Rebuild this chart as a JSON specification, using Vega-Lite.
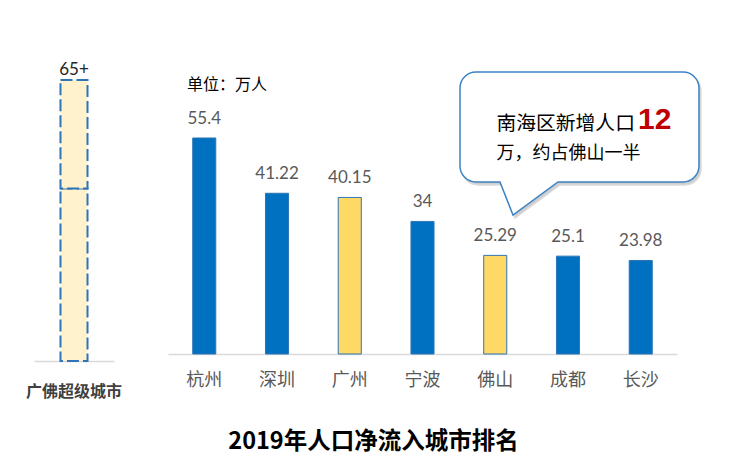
{
  "$schema": "https://vega.github.io/schema/vega-lite/v6.json",
  "width": 729,
  "height": 468,
  "autosize": "none",
  "padding": 0,
  "background": "white",
  "config": {"view": {"stroke": null}, "axis": {"grid": false}},
  "title": {
    "text": "2019年人口净流入城市排名",
    "orient": "bottom",
    "frame": "group",
    "anchor": "middle",
    "baseline": "middle",
    "offset": -26,
    "dx": 9,
    "font": "Noto Sans CJK SC",
    "fontSize": 23.5,
    "fontWeight": "bold",
    "color": "#000000"
  },
  "layer": [
    {
      "data": {"values": [
        {"名称": "广佛超级城市", "城市": "广州", "人数": 40.15},
        {"名称": "广佛超级城市", "城市": "佛山", "人数": 25.29}
      ]},
      "encoding": {
        "x": {
          "field": "名称", "type": "nominal",
          "scale": {"range": [34, 114], "paddingInner": 0, "paddingOuter": 0.98},
          "axis": {
            "orient": "bottom", "offset": -107, "title": null,
            "domainColor": "#D9D9D9", "domainWidth": 1.5,
            "ticks": false, "tickSize": 0,
            "labelFont": "Noto Sans CJK SC", "labelFontSize": 16, "labelFontWeight": "bold",
            "labelColor": "#404040", "labelPadding": 30, "labelBaseline": "middle", "labelAngle": 0
          }
        }
      },
      "layer": [
        {
          "mark": {"type": "bar", "fill": "#FFF2CC", "stroke": "#2E75B6", "strokeWidth": 2, "strokeDash": [12, 4]},
          "encoding": {
            "y": {"field": "人数", "type": "quantitative", "stack": "zero", "scale": {"domain": [-24.92, 84.07], "nice": false}, "axis": null},
            "detail": {"field": "城市"},
            "order": {"field": "人数", "sort": "descending"}
          }
        },
        {
          "mark": {"type": "text", "dy": -10, "baseline": "middle", "font": "Lato", "fontSize": 17, "color": "#262626", "text": "65+"},
          "encoding": {
            "y": {"aggregate": "sum", "field": "人数", "type": "quantitative"}
          }
        }
      ]
    },
    {
      "layer": [
        {
          "data": {"values": [
            {"城市": "杭州", "人数": 55.4, "类别": "其他城市"},
            {"城市": "深圳", "人数": 41.22, "类别": "其他城市"},
            {"城市": "广州", "人数": 40.15, "类别": "广佛"},
            {"城市": "宁波", "人数": 34, "类别": "其他城市"},
            {"城市": "佛山", "人数": 25.29, "类别": "广佛"},
            {"城市": "成都", "人数": 25.1, "类别": "其他城市"},
            {"城市": "长沙", "人数": 23.98, "类别": "其他城市"}
          ]},
          "encoding": {
            "x": {
              "field": "城市", "type": "nominal", "sort": null,
              "scale": {"range": [168, 677], "paddingInner": 0.683, "paddingOuter": 0.34},
              "axis": {
                "orient": "bottom", "offset": -114, "title": null,
                "domainColor": "#D9D9D9", "domainWidth": 1.5,
                "ticks": false, "tickSize": 0,
                "labelFont": "Noto Sans CJK SC", "labelFontSize": 18,
                "labelColor": "#595959", "labelPadding": 26, "labelBaseline": "middle", "labelAngle": 0
              }
            },
            "y": {"field": "人数", "type": "quantitative", "scale": {"domain": [-29.24, 90.79], "nice": false}, "axis": null}
          },
          "layer": [
            {
              "mark": {"type": "bar", "stroke": "#2E75B6", "strokeWidth": 1},
              "encoding": {
                "color": {"field": "类别", "type": "nominal", "scale": {"domain": ["其他城市", "广佛"], "range": ["#0070C0", "#FFD966"]}, "legend": null}
              }
            },
            {
              "mark": {"type": "text", "dy": -19, "baseline": "middle", "font": "Lato", "fontSize": 17, "color": "#595959"},
              "encoding": {"text": {"field": "人数", "type": "quantitative"}}
            }
          ]
        },
        {
          "data": {"values": [{}]},
          "layer": [
            {
              "mark": {"type": "point", "shape": "M -0.8625 -0.5958 L 0.8625 -0.5958 A 0.1333 0.1333 0 0 1 0.9958 -0.4625 L 0.9958 0.1875 A 0.1333 0.1333 0 0 1 0.8625 0.3208 L -0.1792 0.3208 L -0.5542 0.5958 L -0.6625 0.3208 L -0.8625 0.3208 A 0.1333 0.1333 0 0 1 -0.9958 0.1875 L -0.9958 -0.4625 A 0.1333 0.1333 0 0 1 -0.8625 -0.5958 Z", "size": 57600, "filled": true, "fill": "#A6A6A6", "stroke": "#BFBFBF", "strokeWidth": 1.5, "opacity": 0.55, "xOffset": 2, "yOffset": 3},
              "encoding": {
                "x": {"datum": 79.49, "type": "quantitative", "scale": {"domain": [0, 100], "nice": false}, "axis": null},
                "y": {"datum": 53.99, "type": "quantitative"}
              }
            },
            {
              "mark": {"type": "point", "shape": "M -0.8625 -0.5958 L 0.8625 -0.5958 A 0.1333 0.1333 0 0 1 0.9958 -0.4625 L 0.9958 0.1875 A 0.1333 0.1333 0 0 1 0.8625 0.3208 L -0.1792 0.3208 L -0.5542 0.5958 L -0.6625 0.3208 L -0.8625 0.3208 A 0.1333 0.1333 0 0 1 -0.9958 0.1875 L -0.9958 -0.4625 A 0.1333 0.1333 0 0 1 -0.8625 -0.5958 Z", "size": 57600, "filled": true, "fill": "#FFFFFF", "stroke": "#3C82C4", "strokeWidth": 1.5, "opacity": 1},
              "encoding": {
                "x": {"datum": 79.49, "type": "quantitative"},
                "y": {"datum": 53.99, "type": "quantitative"}
              }
            },
            {
              "mark": {"type": "text", "text": "南海区新增人口", "align": "left", "baseline": "alphabetic", "font": "Noto Sans CJK SC", "fontSize": 19.8, "color": "#000000"},
              "encoding": {
                "x": {"datum": 68.1, "type": "quantitative"},
                "y": {"datum": 57.45, "type": "quantitative"}
              }
            },
            {
              "mark": {"type": "text", "text": "12", "align": "left", "baseline": "alphabetic", "font": "Liberation Sans", "fontSize": 30, "fontWeight": "bold", "color": "#C00000"},
              "encoding": {
                "x": {"datum": 87.52, "type": "quantitative"},
                "y": {"datum": 57.7, "type": "quantitative"}
              }
            },
            {
              "mark": {"type": "text", "text": "万，约占佛山一半", "align": "left", "baseline": "alphabetic", "font": "Noto Sans CJK SC", "fontSize": 18, "color": "#000000"},
              "encoding": {
                "x": {"datum": 68.1, "type": "quantitative"},
                "y": {"datum": 50.01, "type": "quantitative"}
              }
            },
            {
              "mark": {"type": "text", "text": "单位：万人", "align": "left", "baseline": "middle", "font": "Noto Sans CJK SC", "fontSize": 16, "color": "#000000"},
              "encoding": {
                "x": {"datum": 25.65, "type": "quantitative"},
                "y": {"datum": 69.0, "type": "quantitative"}
              }
            }
          ]
        }
      ],
      "resolve": {"scale": {"x": "independent"}, "axis": {"x": "independent"}}
    }
  ],
  "resolve": {
    "scale": {"x": "independent", "y": "independent"},
    "axis": {"x": "independent", "y": "independent"}
  }
}
